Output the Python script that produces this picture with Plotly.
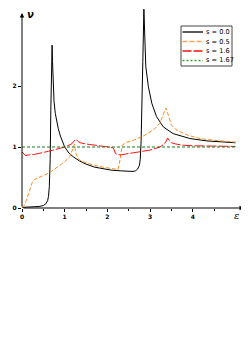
import plotly.graph_objects as go

# ---------------- data ----------------
eps_s0 = [0, 0.2, 0.4, 0.5, 0.56, 0.6, 0.62, 0.64, 0.66, 0.675, 0.69, 0.705, 0.715, 0.73, 0.75,
          0.78, 0.81, 0.85, 0.9, 0.95, 1.0, 1.1, 1.2, 1.35, 1.5, 1.7, 1.9, 2.1, 2.3, 2.5, 2.6,
          2.66, 2.71, 2.75, 2.77, 2.79, 2.81, 2.83, 2.855, 2.87, 2.9, 2.96, 3.04, 3.15, 3.31,
          3.54, 3.93, 4.33, 4.7, 5.0]
nu_s0 = [0.01, 0.015, 0.025, 0.04, 0.07, 0.12, 0.19, 0.35, 0.8, 1.6, 2.3, 2.67, 2.4, 2.0, 1.75,
         1.55, 1.44, 1.3, 1.18, 1.08, 1.0, 0.9, 0.84, 0.77, 0.72, 0.67, 0.64, 0.62, 0.61, 0.6, 0.6,
         0.61, 0.64, 0.7, 0.8, 1.1, 1.6, 2.4, 3.26, 2.8, 2.32, 1.99, 1.72, 1.5, 1.33,
         1.22, 1.14, 1.10, 1.08, 1.07]

eps_s05 = [0, 0.05, 0.1, 0.15, 0.2, 0.25, 0.3, 0.45, 0.62, 0.85, 1.0, 1.12, 1.18, 1.23, 1.26,
           1.32, 1.42, 1.55, 1.7, 1.9, 2.06, 2.2, 2.25, 2.28, 2.31, 2.35, 2.45, 2.61, 2.84, 3.08,
           3.23, 3.31, 3.37, 3.43, 3.5, 3.6, 3.7, 3.9, 4.17, 4.5, 5.0]
nu_s05 = [0.01, 0.04, 0.12, 0.24, 0.36, 0.44, 0.47, 0.52, 0.57, 0.68, 0.76, 0.84, 0.95, 1.05, 0.9,
          0.8, 0.76, 0.73, 0.7, 0.67, 0.65, 0.63, 0.63, 0.73, 0.9, 1.03, 1.08, 1.11, 1.18, 1.28,
          1.39, 1.52, 1.64, 1.52, 1.36, 1.29, 1.25, 1.19, 1.14, 1.11, 1.08]

eps_s16 = [0, 0.04, 0.08, 0.15, 0.3, 0.62, 1.0, 1.16, 1.22, 1.26, 1.3, 1.36, 1.5, 1.63, 1.8, 2.06,
           2.13, 2.16, 2.19, 2.3, 2.61, 3.0, 3.23, 3.33, 3.38, 3.41, 3.45, 3.5, 3.6, 3.77, 4.0,
           4.3, 5.0]
nu_s16 = [0.92, 0.88, 0.86, 0.87, 0.88, 0.93, 1.0, 1.05, 1.09, 1.13, 1.1, 1.07, 1.05, 1.04, 1.02,
          1.0, 0.99, 0.95, 0.89, 0.87, 0.91, 0.95, 1.0, 1.05, 1.1, 1.15, 1.11, 1.07, 1.05, 1.03,
          1.02, 1.02, 1.01]

eps_s167 = [0, 5.0]
nu_s167 = [1.0, 1.0]

x_ticks = [0, 1, 2, 3, 4]
x_minor = [0.5, 1.5, 2.5, 3.5, 4.5]
y_ticks = [0, 1, 2]
labels = ["s = 0.0", "s = 0.5", "s = 1.6", "s = 1.67"]

# ---------------- style ----------------
OFF = 8                      # default page body margin
W, H = 249 - OFF, 352 - OFF
L, R, T, B = 22 - OFF, 5, 8 - OFF, 144
PW, PH = W - L - R, H - T - B
XMAX, YMAX = 5.2, 3.28

styles = [
    dict(color="black", width=1, dash="solid"),
    dict(color="#ff8a1f", width=1, dash="4px,2px"),
    dict(color="#ff1010", width=1, dash="10px,2px"),
    dict(color="#1f7a1f", width=1.1, dash="3px,2px"),
]

series = [(eps_s0, nu_s0), (eps_s05, nu_s05), (eps_s16, nu_s16), (eps_s167, nu_s167)]

fig = go.Figure()
for (xs, ys), lab, st in zip(series, labels, styles):
    fig.add_trace(go.Scatter(x=xs, y=ys, mode="lines", name=lab, line=st,
                             showlegend=False, cliponaxis=False))

# page-pixel -> paper coordinates
def px(xp):
    return (xp - OFF - L) / PW

def py(yp):
    return (T + PH - (yp - OFF)) / PH

shapes = []
annotations = []

# axes with arrows
annotations.append(dict(x=XMAX, y=0, ax=0, ay=0, xref="x", yref="y", axref="x", ayref="y",
                        text="", showarrow=True, arrowhead=2, arrowsize=0.9, arrowwidth=1,
                        arrowcolor="black"))
annotations.append(dict(x=0, y=3.2, ax=0, ay=0, xref="x", yref="y", axref="x", ayref="y",
                        text="", showarrow=True, arrowhead=2, arrowsize=0.9, arrowwidth=1,
                        arrowcolor="black"))
# axis labels
annotations.append(dict(x=px(30.5), y=py(14), xref="paper", yref="paper", text="<i><b>ν</b></i>",
                        showarrow=False, xanchor="center", yanchor="middle",
                        font=dict(family="DejaVu Sans", size=10, color="black")))
annotations.append(dict(x=px(236), y=py(215.5), xref="paper", yref="paper", text="<i>ε</i>",
                        showarrow=False, xanchor="center", yanchor="middle",
                        font=dict(family="DejaVu Serif", size=10, color="black")))

# manual legend
shapes.append(dict(type="rect", xref="paper", yref="paper", x0=px(181), x1=px(232),
                   y0=py(26), y1=py(66), line=dict(color="#444", width=1),
                   fillcolor="white", layer="above"))
rows = [32, 41.5, 51, 60.5]
leg_colors = ["black", "#ffa55a", "#ff1010", "#2ea02e"]
leg_dash = ["solid", "5px,2px", "9px,2px", "2px,2px"]
for lab, c, d, ry in zip(labels, leg_colors, leg_dash, rows):
    shapes.append(dict(type="line", xref="paper", yref="paper", x0=px(182.5), x1=px(203),
                       y0=py(ry), y1=py(ry), layer="above",
                       line=dict(color=c, width=1.3, dash=d)))
    annotations.append(dict(x=px(203.5), y=py(ry), xref="paper", yref="paper", text=lab,
                            showarrow=False, xanchor="left", yanchor="middle",
                            font=dict(family="DejaVu Sans", size=6.6, color="black")))

fig.update_layout(
    template="none",
    width=W, height=H,
    margin=dict(l=L, r=R, t=T, b=B, pad=0),
    paper_bgcolor="white", plot_bgcolor="white",
    showlegend=False,
    shapes=shapes, annotations=annotations,
    xaxis=dict(range=[0, XMAX], showgrid=False, zeroline=False, showline=False, automargin=False,
               tickvals=x_ticks, ticktext=[str(v) for v in x_ticks],
               ticks="outside", ticklen=3, tickwidth=1, tickcolor="black",
               tickfont=dict(family="DejaVu Sans", size=6, color="black", weight="bold"),
               minor=dict(tickvals=x_minor, ticks="outside", ticklen=2, tickcolor="black")),
    yaxis=dict(range=[0, YMAX], showgrid=False, zeroline=False, showline=False, automargin=False,
               tickvals=y_ticks, ticktext=[str(v) for v in y_ticks],
               ticks="outside", ticklen=3, tickwidth=1, tickcolor="black",
               tickfont=dict(family="DejaVu Sans", size=6, color="black", weight="bold")),
)

fig.write_html("out.html")
